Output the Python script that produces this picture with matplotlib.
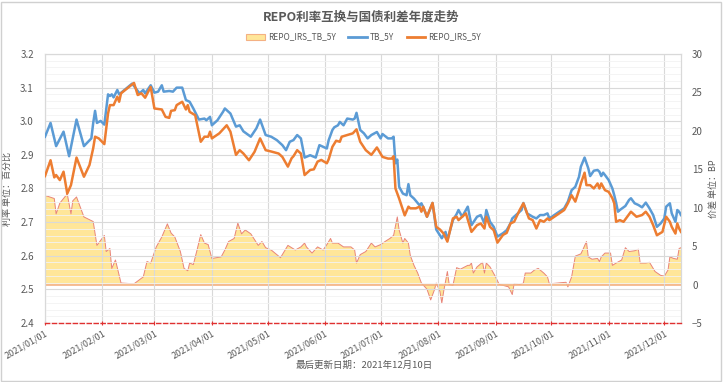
import matplotlib
matplotlib.use("Agg")
import matplotlib.pyplot as plt
import matplotlib.dates as mdates
from matplotlib.patches import Patch, Rectangle
from matplotlib.lines import Line2D
from matplotlib.ticker import MultipleLocator, FormatStrFormatter
import pandas as pd

plt.rcParams['font.family'] = ['Noto Sans CJK SC', 'DejaVu Sans']

title = "REPO利率互换与国债利差年度走势"
footer = "最后更新日期：2021年12月10日"
left_label = "利率 单位：百分比"
right_label = "价差 单位：BP"
series_names = ["REPO_IRS_TB_5Y", "TB_5Y", "REPO_IRS_5Y"]
start_date = "2021-01-01"
end_date = "2021-12-10"

# TB_5Y (percent), days counted from 2021-01-01
tb_day = [0, 3, 6, 10, 13, 17, 21, 25, 26, 27, 28, 30, 32, 34, 35, 36, 37, 39, 40, 47, 51, 53, 54, 57, 59, 61, 63, 64, 67,
          69, 71, 74, 76, 78, 80, 83, 86, 87, 89, 90, 93, 96, 97, 100, 103, 105, 107, 111, 114, 116, 119, 122, 125, 128, 130, 132, 134,
          136, 138, 140, 143, 146, 148, 150, 152, 153, 155, 156, 158, 159, 161, 163, 166, 167, 168, 170, 172, 174, 176, 179, 181, 182,
          185, 187, 188, 189, 190, 191, 193, 195, 196, 197, 199, 202, 203,
          204, 206, 209, 211, 214, 216, 217, 220, 222, 223, 225, 228, 230, 233, 235, 237, 238, 240, 242, 244, 247, 249, 251, 252, 255,
          257, 258, 260, 263, 265, 267, 269, 271,
          272, 276, 280, 282, 284, 286, 288, 289, 291, 293, 294, 296, 298, 299, 300, 301, 302, 304, 306, 307, 308, 309, 310, 313, 315,
          316, 318, 320, 322, 324, 326, 328, 330, 332, 334, 335, 337, 338, 340, 341, 342, 343]
tb_val = [2.954, 2.995, 2.926, 2.969, 2.896, 3.005, 2.926, 2.949, 2.995, 3.031, 2.995, 3.001, 2.990, 3.080, 3.075, 3.080, 3.071, 3.093, 3.080, 3.112, 3.083, 3.093, 3.083, 3.107, 3.085, 3.088, 3.107, 3.088, 3.090,
          3.088, 3.100, 3.100, 3.063, 3.058, 3.038, 3.005, 3.008, 3.003, 3.013, 2.988, 3.003, 3.028, 3.038, 3.023, 2.984, 2.988, 2.970, 2.954, 2.979, 3.005, 2.959, 2.954, 2.944, 2.929, 2.914, 2.939, 2.944,
          2.959, 2.949, 2.892, 2.899, 2.892, 2.929, 2.924, 2.919, 2.944, 2.974, 2.982, 2.988, 2.998, 2.988, 3.008, 3.005, 3.008, 3.025, 2.974, 2.964, 2.949, 2.959, 2.968, 2.949, 2.962,
          2.949, 2.949, 2.954, 2.875, 2.886, 2.805, 2.785, 2.780, 2.813, 2.780, 2.770, 2.750, 2.756,
          2.744, 2.716, 2.757, 2.678, 2.652, 2.671, 2.647, 2.706, 2.724, 2.736, 2.716, 2.746, 2.691, 2.716, 2.721, 2.696, 2.736, 2.701, 2.686, 2.657, 2.667, 2.676, 2.696, 2.711, 2.726,
          2.736, 2.757, 2.726, 2.716, 2.711, 2.721, 2.721, 2.726,
          2.711, 2.726, 2.741, 2.761, 2.795, 2.805, 2.835, 2.865, 2.892, 2.860, 2.837, 2.853, 2.855, 2.850, 2.837, 2.847, 2.840, 2.825, 2.800, 2.780, 2.758, 2.731, 2.736, 2.748, 2.766,
          2.771, 2.756, 2.751, 2.744, 2.758, 2.741, 2.721, 2.686, 2.696, 2.711, 2.746, 2.756, 2.726, 2.701, 2.736, 2.731, 2.721]

# REPO_IRS_5Y (percent)
irs_day = [0, 3, 5, 6, 8, 10, 12, 14, 17, 21, 24, 26, 27, 29, 32, 34, 35, 37, 39, 40, 41, 48, 50, 52, 54, 57, 59, 63, 65, 67, 68,
           70, 71, 74, 76, 77, 78, 81, 84, 86, 88, 89, 90, 94, 98, 100, 103, 105, 107, 110, 113, 116, 119, 122, 126, 128, 131, 133, 134,
           136, 138, 140, 143, 145, 147, 149, 152, 153, 155, 157, 159, 160, 163, 166, 168, 170, 173, 176, 179, 182, 185, 187, 188, 189,
           191, 194, 196, 197, 200, 202, 203,
           204, 206, 209, 211, 213, 215, 217, 220, 222, 223, 225, 227, 230, 233, 235, 237, 238, 240, 242, 244, 247, 249, 251, 253, 255,
           256, 258, 261, 263, 265, 267, 269, 271,
           272, 276, 280, 282, 284, 286, 288, 289, 291, 292, 294, 296, 298, 299, 300, 302, 304, 306, 307, 308, 310, 312, 314, 316, 317,
           319, 322, 324, 326, 328, 330, 333, 335, 337, 338, 340, 341, 342, 343]
irs_val = [2.837, 2.884, 2.833, 2.840, 2.825, 2.850, 2.785, 2.810, 2.892, 2.835, 2.870, 2.920, 2.954, 2.949, 2.932, 3.023, 3.048, 3.048, 3.073, 3.058, 3.083, 3.114, 3.078, 3.083, 3.070, 3.102, 3.038, 3.035, 3.013, 3.010, 3.031,
           3.033, 3.048, 3.058, 3.035, 3.048, 3.028, 3.018, 2.939, 2.954, 2.954, 2.969, 2.949, 2.964, 2.988, 2.969, 2.900, 2.914, 2.904, 2.884, 2.909, 2.949, 2.914, 2.910, 2.904, 2.894, 2.865, 2.890, 2.896,
           2.914, 2.904, 2.840, 2.855, 2.857, 2.880, 2.885, 2.875, 2.887, 2.924, 2.942, 2.939, 2.954, 2.959, 2.964, 2.976, 2.939, 2.914, 2.900, 2.922, 2.894, 2.889, 2.889, 2.896, 2.800,
           2.770, 2.720, 2.746, 2.741, 2.741, 2.746, 2.731,
           2.746, 2.716, 2.757, 2.686, 2.678, 2.666, 2.642, 2.711, 2.716, 2.706, 2.716, 2.726, 2.671, 2.691, 2.696, 2.681, 2.716, 2.686, 2.676, 2.639, 2.662, 2.668, 2.696, 2.701, 2.724,
           2.736, 2.756, 2.711, 2.706, 2.681, 2.706, 2.701, 2.711,
           2.706, 2.721, 2.736, 2.756, 2.780, 2.761, 2.795, 2.815, 2.847, 2.810, 2.810, 2.800, 2.815, 2.800, 2.815, 2.795, 2.790, 2.771, 2.756, 2.701, 2.706, 2.701, 2.716, 2.731, 2.726,
           2.716, 2.721, 2.731, 2.716, 2.691, 2.661, 2.671, 2.716, 2.701, 2.686, 2.666, 2.696, 2.681, 2.671]

# REPO_IRS_TB_5Y spread (BP)
spread_day = [0, 5, 6, 8, 10, 12, 14, 15, 17, 21, 26, 28, 32, 33, 35, 36, 38, 41, 48, 53, 55, 57, 60, 63, 66, 68,
              70, 73, 75, 77, 78, 80, 82, 84, 86, 88, 90, 95, 97, 99, 102, 104, 106, 108, 111, 115, 117, 119, 122, 127, 131, 133, 135,
              138, 140, 141, 144, 147, 150, 152, 154, 155, 158, 161, 165, 167, 168, 170, 173, 176, 178, 181, 184, 186, 188, 190, 191,
              193, 194, 196, 197, 199, 201, 203,
              206, 208, 210, 211, 213, 214, 215, 217, 218, 220, 222, 224, 228, 229, 230, 231, 233, 236, 237, 238, 240, 243, 245, 247,
              250, 252, 253, 256, 258, 259, 262, 264, 266, 269, 271,
              272, 281, 282, 284, 286, 289, 290, 292, 293, 295, 298, 299, 300, 302, 305, 306, 308, 311, 313, 315, 318, 320, 321, 324,
              326, 329, 332, 334, 336, 337, 339, 341, 342, 343]
spread_val = [11.6, 11.2, 9.2, 10.6, 11.2, 11.8, 9.2, 10.9, 11.4, 8.8, 8.2, 5.1, 6.4, 4.3, 4.7, 2.1, 3.2, 0.2, 0.1, 1.0, 3.0, 2.8, 4.9, 6.2, 7.9, 6.7,
              6.2, 4.3, 2.1, 1.8, 2.8, 2.6, 4.5, 6.5, 5.4, 5.2, 3.4, 3.6, 4.5, 5.6, 6.0, 8.0, 6.6, 7.1, 6.6, 5.1, 5.6, 4.8, 4.5, 3.5, 5.1, 4.8, 4.5,
              4.9, 5.4, 4.9, 4.1, 4.9, 4.5, 5.2, 6.0, 5.4, 5.4, 4.9, 4.9, 4.5, 2.8, 3.9, 4.3, 5.4, 4.9, 5.2, 5.7, 6.0, 6.4, 8.8, 7.1,
              5.4, 6.0, 5.4, 3.8, 2.5, 1.5, 0.2,
              -0.6, -2.0, -0.7, 0.2, -0.9, -2.4, -0.9, 1.7, 0.0, -0.1, 2.2, 2.0, 2.5, 2.5, 2.8, 1.5, 2.3, 2.9, 1.5, 2.8, 2.3, 1.0, 0.0, -0.1,
              -0.3, -1.3, 0.1, 0.0, 0.2, 1.5, 1.5, 1.9, 2.1, 1.5, 1.0,
              0.1, 0.3, -0.3, 1.0, 3.7, 4.0, 4.5, 5.6, 3.6, 3.3, 3.4, 3.0, 3.6, 4.1, 4.1, 2.5, 2.8, 3.2, 4.8, 4.3, 4.4, 4.6, 2.8, 2.8,
              2.9, 1.7, 1.2, 1.1, 1.9, 3.6, 3.4, 3.3, 4.7, 4.8]

origin = pd.Timestamp(start_date)
tb_dates = origin + pd.to_timedelta(tb_day, unit="D")
irs_dates = origin + pd.to_timedelta(irs_day, unit="D")
spread_dates = origin + pd.to_timedelta(spread_day, unit="D")

BLUE = "#5B9BD5"
ORANGE = "#ED7D31"
FILL = "#FFE699"
FILL_EDGE = "#E8847A"
GRID = "#D9D9D9"
MINOR = "#F3F3F3"
TXT = "#595959"

fig = plt.figure(figsize=(7.23, 3.82), dpi=100)
ax = fig.add_axes([45 / 723, 1 - 323 / 382, (681 - 45) / 723, (323 - 54) / 382])
ax2 = ax.twinx()

# area series on right axis (behind)
ax2.fill_between(spread_dates, 0, spread_val, facecolor=FILL, edgecolor="none", zorder=1)
ax2.plot(spread_dates, spread_val, color=FILL_EDGE, lw=0.7, zorder=2)
ax2.axhline(0, color="#F4B183", lw=1.2, zorder=2)
ax2.set_ylim(-5, 30)
ax2.yaxis.set_major_locator(MultipleLocator(5))
ax2.tick_params(axis="y", length=0, labelsize=7, labelcolor=TXT, pad=8)
ax2.set_ylabel(right_label, fontsize=6.5, color=TXT, labelpad=4)

ax.set_zorder(ax2.get_zorder() + 1)
ax.patch.set_visible(False)

ax.plot(tb_dates, tb_val, color=BLUE, lw=1.8, zorder=3)
ax.plot(irs_dates, irs_val, color=ORANGE, lw=1.8, zorder=4)
ax.set_ylim(2.4, 3.2)
ax.set_xlim(pd.Timestamp(start_date), pd.Timestamp(end_date))
ax.yaxis.set_major_locator(MultipleLocator(0.1))
ax.yaxis.set_minor_locator(MultipleLocator(0.02))
ax.yaxis.set_major_formatter(FormatStrFormatter("%.1f"))
ax.xaxis.set_major_locator(mdates.MonthLocator())
ax.xaxis.set_major_formatter(mdates.DateFormatter("%Y/%m/%d"))
ax.grid(True, which="major", axis="both", color=GRID, lw=0.8, zorder=0)
ax.grid(True, which="minor", axis="y", color=MINOR, lw=0.6, zorder=0)
ax.set_axisbelow(True)
ax.tick_params(axis="y", which="both", length=0, labelsize=7, labelcolor=TXT, pad=8)
ax.tick_params(axis="x", length=3, direction="inout", color="#E03030", labelsize=6.5, labelcolor=TXT, pad=3)
for lab in ax.get_xticklabels():
    lab.set_rotation(30)
    lab.set_ha("right")
    lab.set_rotation_mode("anchor")
ax.set_ylabel(left_label, fontsize=6.5, color=TXT, labelpad=6)

for a in (ax, ax2):
    for s in ("top", "left", "right"):
        a.spines[s].set_color(GRID)
        a.spines[s].set_linewidth(0.8)
    a.spines["bottom"].set_visible(False)
ax.spines["bottom"].set_visible(True)
ax.spines["bottom"].set_color("#E03030")
ax.spines["bottom"].set_linestyle((0, (3, 2)))
ax.spines["bottom"].set_linewidth(1.0)

fig.text(0.5, 1 - 17 / 382, title, ha="center", va="center", fontsize=9, fontweight="bold", color=TXT)
fig.text(0.503, 1 - 365 / 382, footer, ha="center", va="center", fontsize=6.8, color=TXT)

handles = [Patch(facecolor=FILL, edgecolor="#F4B183", lw=0.8),
           Line2D([], [], color=BLUE, lw=2),
           Line2D([], [], color=ORANGE, lw=2)]
fig.legend(handles, series_names, loc="center", bbox_to_anchor=(0.503, 1 - 37 / 382), ncol=3, frameon=False,
           fontsize=6, handlelength=2.2, handleheight=0.7, columnspacing=1.5, handletextpad=0.4, labelcolor=TXT)

fig.patches.append(Rectangle((0.002, 0.003), 0.995, 0.993, transform=fig.transFigure, fill=False,
                             edgecolor="#D0D0D0", lw=1.0))

fig.savefig("out.png", dpi=100)
